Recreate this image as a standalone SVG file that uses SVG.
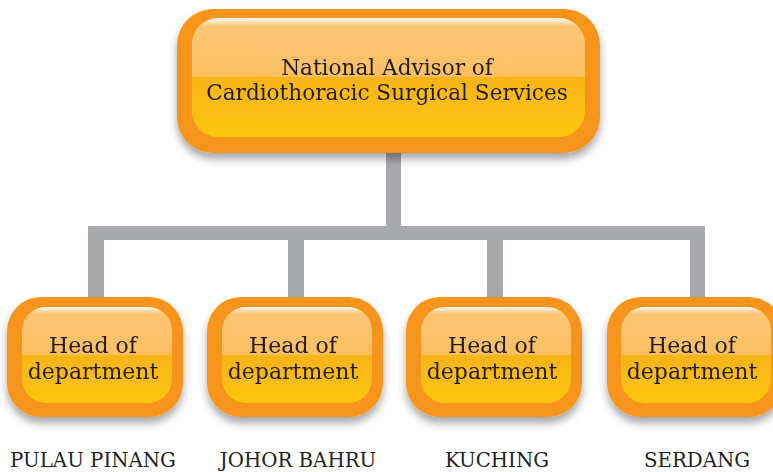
<svg xmlns="http://www.w3.org/2000/svg" width="773" height="472" viewBox="0 0 773 472">
<defs>
<linearGradient id="inner" x1="0" y1="0" x2="0" y2="1">
<stop offset="0" stop-color="#FCC068"/>
<stop offset="0.5" stop-color="#FBBE5E"/>
<stop offset="0.5" stop-color="#FAB317"/>
<stop offset="1" stop-color="#FDC70F"/>
</linearGradient>
<linearGradient id="gloss" x1="0" y1="0" x2="0" y2="1">
<stop offset="0" stop-color="#FFFFFF" stop-opacity="0.9"/>
<stop offset="0.12" stop-color="#FFFFFF" stop-opacity="0.1"/>
<stop offset="1" stop-color="#FFFFFF" stop-opacity="0"/>
</linearGradient>
<filter id="sh" x="-10%" y="-10%" width="120%" height="135%">
<feGaussianBlur in="SourceAlpha" stdDeviation="4"/>
<feOffset dx="0" dy="6"/>
<feComponentTransfer><feFuncA type="linear" slope="0.35"/></feComponentTransfer>
<feMerge><feMergeNode/><feMergeNode in="SourceGraphic"/></feMerge>
</filter>
</defs>
<style>
.outer{fill:#F7941D}
.in{fill:url(#inner)}
.gl{fill:url(#gloss)}
.t{font-family:"DejaVu Serif","Liberation Serif",serif;fill:#231F20;text-anchor:middle}
.big{font-size:21.6px}
.mid{font-size:22px}
.lab{font-size:19.8px}
.c{fill:#A7A9AC}
</style>
<g id="connectors">
<rect class="c" x="386" y="150" width="15" height="80"/>
<rect class="c" x="88" y="226" width="617" height="14"/>
<rect class="c" x="88" y="226" width="16" height="75"/>
<rect class="c" x="288" y="226" width="16" height="75"/>
<rect class="c" x="487" y="226" width="16" height="75"/>
<rect class="c" x="690" y="226" width="15" height="75"/>
</g>
<g id="top" filter="url(#sh)">
<rect class="outer" x="177" y="9" width="423" height="144" rx="36"/>
<rect class="in" x="192" y="18" width="393" height="119" rx="26"/>
<rect class="gl" x="192" y="18" width="393" height="70" rx="26"/>
<text class="t big" x="387" y="75">National Advisor of</text>
<text class="t big" x="387" y="100">Cardiothoracic Surgical Services</text>
</g>
<g id="hod1" filter="url(#sh)">
<rect class="outer" x="7" y="297" width="176" height="120" rx="34"/>
<rect class="in" x="22" y="307" width="150" height="96" rx="24"/>
<rect class="gl" x="22" y="307" width="150" height="55" rx="24"/>
<text class="t mid" x="93" y="353">Head of</text>
<text class="t mid" x="93" y="379">department</text>
</g>
<g id="hod2" filter="url(#sh)">
<rect class="outer" x="207" y="297" width="176" height="120" rx="34"/>
<rect class="in" x="222" y="307" width="150" height="96" rx="24"/>
<rect class="gl" x="222" y="307" width="150" height="55" rx="24"/>
<text class="t mid" x="293" y="353">Head of</text>
<text class="t mid" x="293" y="379">department</text>
</g>
<g id="hod3" filter="url(#sh)">
<rect class="outer" x="406" y="297" width="176" height="120" rx="34"/>
<rect class="in" x="421" y="307" width="150" height="96" rx="24"/>
<rect class="gl" x="421" y="307" width="150" height="55" rx="24"/>
<text class="t mid" x="492" y="353">Head of</text>
<text class="t mid" x="492" y="379">department</text>
</g>
<g id="hod4" filter="url(#sh)">
<rect class="outer" x="607" y="297" width="176" height="120" rx="34"/>
<rect class="in" x="621" y="307" width="150" height="96" rx="24"/>
<rect class="gl" x="621" y="307" width="150" height="55" rx="24"/>
<text class="t mid" x="692" y="353">Head of</text>
<text class="t mid" x="692" y="379">department</text>
</g>
<g id="labels">
<text class="t lab" x="93" y="467">PULAU PINANG</text>
<text class="t lab" x="298" y="467">JOHOR BAHRU</text>
<text class="t lab" x="497" y="467">KUCHING</text>
<text class="t lab" x="697" y="467">SERDANG</text>
</g>
</svg>
